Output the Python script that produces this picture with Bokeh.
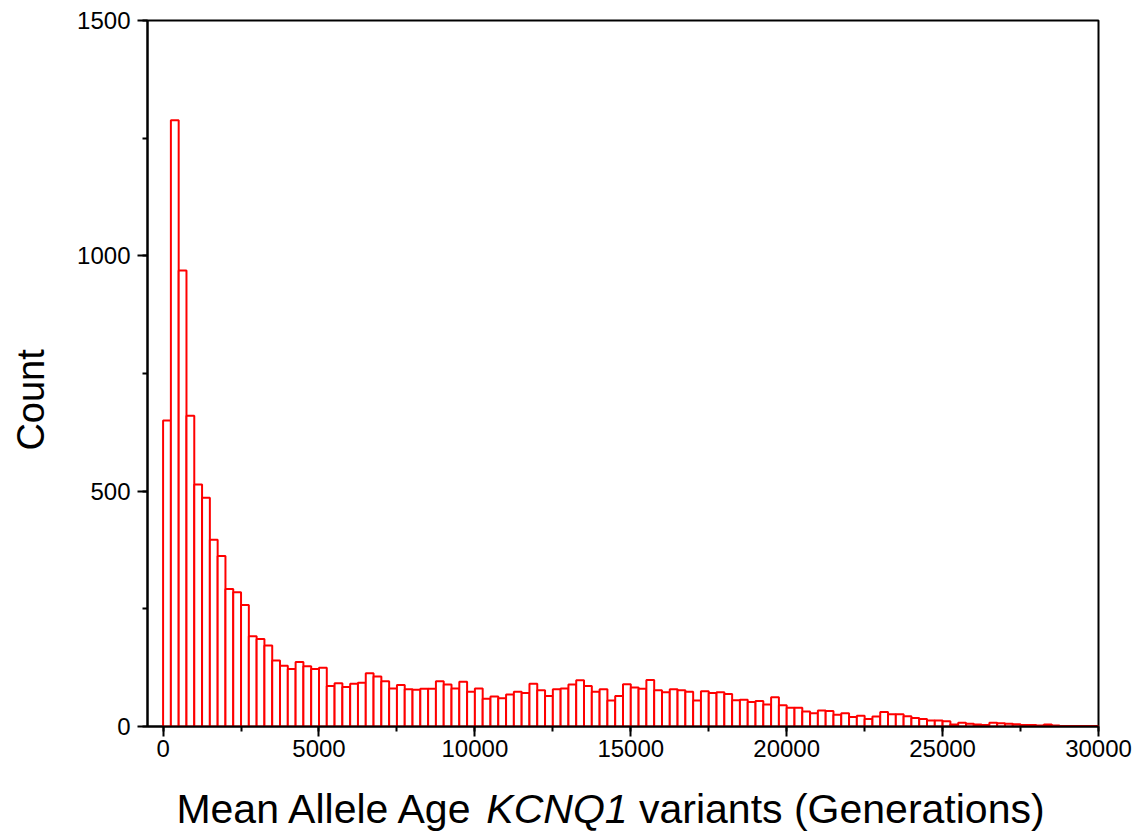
import numpy as np
from bokeh.plotting import figure
from bokeh.layouts import column
from bokeh.models import Range1d, SingleIntervalTicker, ColumnDataSource
from bokeh.core.properties import value
from bokeh.embed import file_html
from bokeh.resources import INLINE

# ---- data ----
bin_width = 250
counts = [650, 1288, 969, 660, 514, 486, 397, 362, 292, 285,
          258, 192, 186, 172, 140, 129, 122, 137, 128, 122,
          125, 86, 92, 84, 91, 93, 113, 106, 96, 81,
          88, 79, 78, 80, 80, 96, 89, 81, 95, 74,
          81, 59, 64, 60, 68, 74, 71, 91, 77, 65,
          79, 81, 89, 98, 86, 74, 79, 55, 65, 90,
          83, 80, 99, 77, 73, 79, 77, 74, 55, 75,
          71, 73, 69, 56, 57, 52, 54, 47, 62, 45,
          40, 40, 32, 28, 34, 33, 25, 28, 20, 23,
          16, 21, 31, 26, 26, 22, 18, 16, 13, 13,
          11, 4, 8, 6, 4, 3, 8, 7, 6, 5,
          3, 3, 2, 4, 2, 1, 1, 1, 1, 1]
x_ticks_interval = 5000
y_ticks_interval = 500
x_label_parts = ["Mean Allele Age", "KCNQ1", "variants (Generations)"]
y_label = "Count"

left_edges = np.arange(len(counts)) * bin_width
src = ColumnDataSource(dict(left=left_edges, right=left_edges + bin_width,
                            top=counts, bottom=[0] * len(counts)))

FONT = "Liberation Sans"
L, R, T = 147, 47, 20

p = figure(width=1145, height=766, output_backend="svg", toolbar_location=None,
           x_range=Range1d(-500, 30000), y_range=Range1d(0, 1500),
           min_border_left=L, min_border_right=R, min_border_top=T,
           min_border_bottom=40)
p.background_fill_color = "white"
p.border_fill_color = "white"
p.outline_line_color = "black"
p.outline_line_width = 2
p.grid.visible = False

p.quad(left="left", right="right", top="top", bottom="bottom", source=src,
       fill_color="white", line_color="#ff0000", line_width=2)

for ax in (p.xaxis[0], p.yaxis[0]):
    ax.axis_line_width = 2
    ax.axis_line_color = "black"
    ax.major_tick_line_width = 2
    ax.minor_tick_line_width = 2
    ax.major_tick_in = 0
    ax.minor_tick_in = 0
    ax.major_tick_out = 10
    ax.minor_tick_out = 5
    ax.major_label_text_font = FONT
    ax.major_label_text_font_size = "24px"
    ax.major_label_text_color = "black"

p.xaxis.ticker = SingleIntervalTicker(interval=x_ticks_interval, num_minor_ticks=2)
p.yaxis.ticker = SingleIntervalTicker(interval=y_ticks_interval, num_minor_ticks=2)
p.xaxis.major_label_standoff = 3
p.yaxis.major_label_standoff = 7

# trailing no-break spaces nudge the rotated title slightly below the frame centre
p.yaxis.axis_label = y_label + "\u00a0" * 5
p.yaxis.axis_label_text_font = FONT
p.yaxis.axis_label_text_font_size = "38px"
p.yaxis.axis_label_text_font_style = "normal"
p.yaxis.axis_label_text_color = "black"
p.yaxis.axis_label_standoff = 22

# ---- x-axis title strip (mixed upright / italic text) ----
H2 = 70
p2 = figure(width=1145, height=H2, output_backend="svg", toolbar_location=None,
            title=None,
            x_range=Range1d(L, 1145 - R), y_range=Range1d(0, H2),
            x_axis_location=None, y_axis_location=None,
            min_border_left=L, min_border_right=R,
            min_border_top=0, min_border_bottom=0)
p2.outline_line_color = None
p2.grid.visible = False
p2.background_fill_color = "white"
p2.border_fill_color = "white"

F = 41
center = 610
total_em = 21.174
start = center - total_em * F / 2
gap = 0.278 * F
x0 = start + 7.559 * F
x1 = x0 + 3.445 * F + gap
base = H2 - (822 - 766) + 14

p2.text(x=[x0 - gap], y=[base], text=[x_label_parts[0]], text_align="right",
        text_baseline="alphabetic", text_font=value(FONT),
        text_font_size=f"{F}px", text_color="black")
p2.text(x=[x0], y=[base], text=[x_label_parts[1]], text_align="left",
        text_baseline="alphabetic", text_font=value(FONT), text_font_style="italic",
        text_font_size=f"{F}px", text_color="black")
p2.text(x=[x1], y=[base], text=[x_label_parts[2]], text_align="left",
        text_baseline="alphabetic", text_font=value(FONT),
        text_font_size=f"{F}px", text_color="black")

layout = column(p, p2, spacing=0)
open("out.html", "w").write(file_html(layout, INLINE))
